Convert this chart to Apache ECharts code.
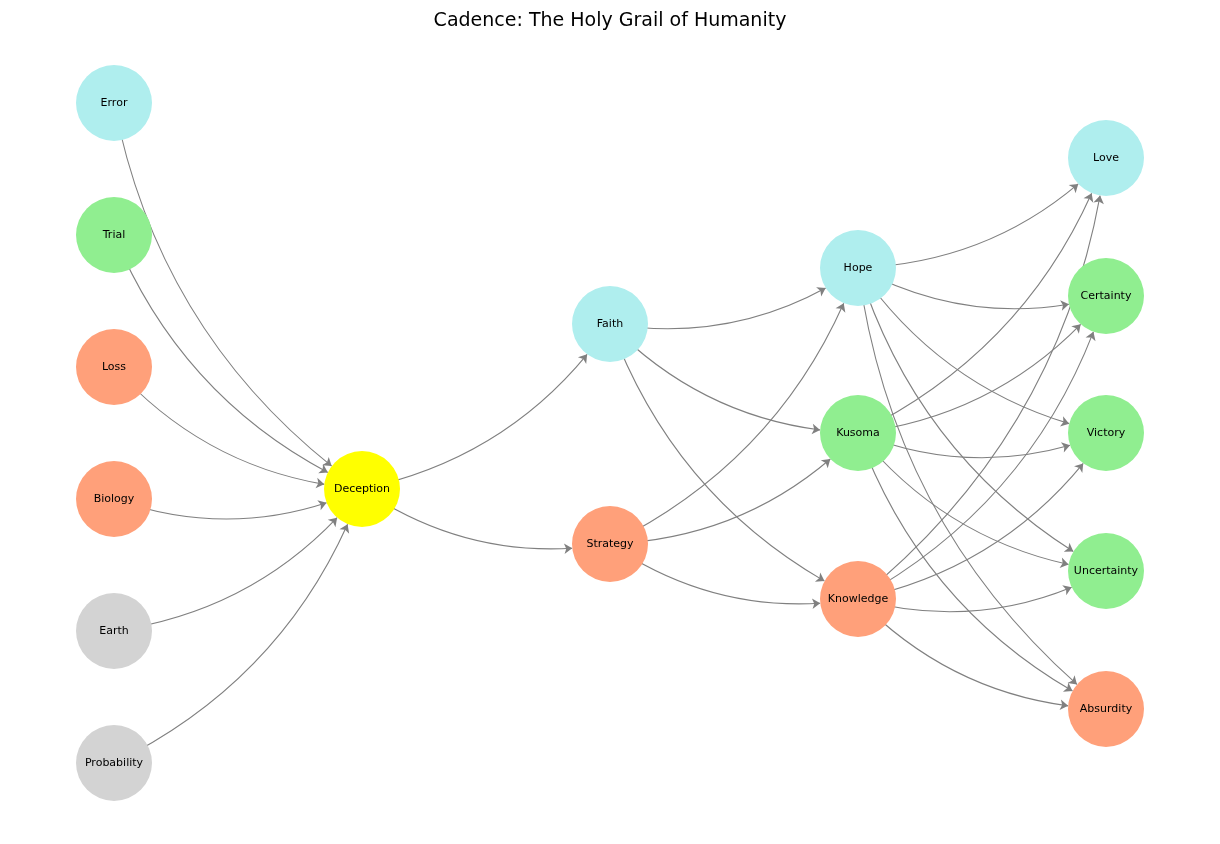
<!DOCTYPE html>
<html><head><meta charset="utf-8">
<script src="https://cdn.jsdelivr.net/npm/echarts@6/dist/echarts.min.js"></script>
<style>html,body{margin:0;background:#fff}#c{width:1220px;height:844px}</style>
</head><body><div id="c"></div>
<script>
const nodeNames = ["Error","Trial","Loss","Biology","Earth","Probability","Deception","Faith","Strategy","Hope","Kusoma","Knowledge","Love","Certainty","Victory","Uncertainty","Absurdity"];
const nodeLayer = [0,0,0,0,0,0,1,2,2,3,3,3,4,4,4,4,4];
const nodePos = [103,235,367,499,631,763,489,324,544,268,433,599,158,296,433,571,709];
const nodeColors = ["#AFEEEE","#90EE90","#FFA07A","#FFA07A","#D3D3D3","#D3D3D3","#FFFF00","#AFEEEE","#FFA07A","#AFEEEE","#90EE90","#FFA07A","#AFEEEE","#90EE90","#90EE90","#90EE90","#FFA07A"];
const edgeSources = ["Error","Trial","Loss","Biology","Earth","Probability","Deception","Deception","Faith","Faith","Faith","Strategy","Strategy","Strategy",
 "Hope","Hope","Hope","Hope","Hope","Kusoma","Kusoma","Kusoma","Kusoma","Kusoma","Knowledge","Knowledge","Knowledge","Knowledge","Knowledge"];
const edgeTargets = ["Deception","Deception","Deception","Deception","Deception","Deception","Faith","Strategy","Hope","Kusoma","Knowledge","Hope","Kusoma","Knowledge",
 "Love","Certainty","Victory","Uncertainty","Absurdity","Love","Certainty","Victory","Uncertainty","Absurdity","Love","Certainty","Victory","Uncertainty","Absurdity"];

const chart = echarts.init(document.getElementById('c'));
chart.setOption({
  animation:false,
  title:{text:"Cadence: The Holy Grail of Humanity",left:'center',top:7,textStyle:{fontFamily:'DejaVu Sans',fontWeight:'normal',fontSize:19,color:'#000'}},
  grid:{left:114,right:114,top:103,bottom:81},
  xAxis:{type:'value',min:0,max:4,show:false},
  yAxis:{type:'value',min:103,max:763,inverse:true,show:false},
  series:[{
    type:'graph',coordinateSystem:'cartesian2d',
    symbolSize:76,
    edgeSymbol:['none','arrow'],edgeSymbolSize:[0,8],
    label:{show:true,position:'inside',color:'#000',fontFamily:'DejaVu Sans',fontSize:11},
    lineStyle:{color:'#808080',width:1.1,curveness:-0.2,opacity:1},
    data:nodeNames.map((n,i)=>({name:n,value:[nodeLayer[i],nodePos[i]],itemStyle:{color:nodeColors[i]}})),
    links:edgeSources.map((s,i)=>({source:s,target:edgeTargets[i]}))
  }]
});
</script></body></html>
